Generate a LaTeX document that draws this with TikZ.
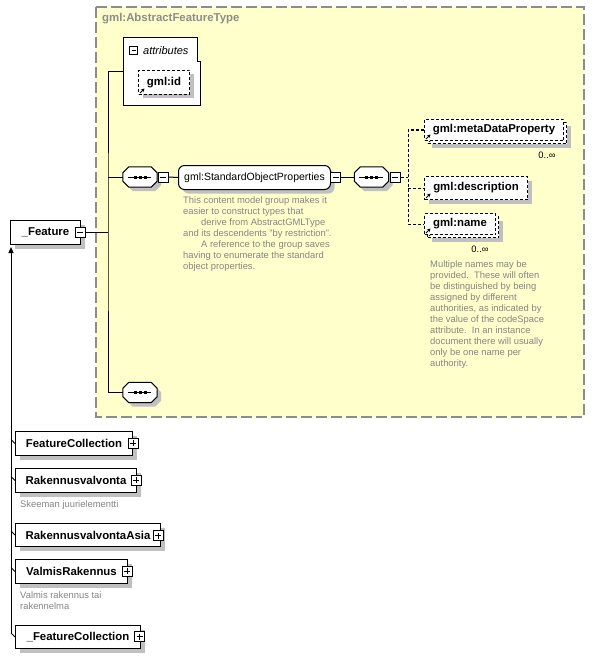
\documentclass[tikz,border=0pt]{standalone}
\usepackage{fontspec}
\setmainfont{Liberation Sans}
\usepackage{tikz}
\usetikzlibrary{shadows}
\usetikzlibrary{arrows.meta}

\definecolor{typeyellow}{HTML}{FFFFCC}
\definecolor{typeborder}{HTML}{8C8C8C}
\definecolor{docgray}{HTML}{858585}
\definecolor{shadowgray}{HTML}{C0C0C0}

\newcommand{\elemfont}{\fontsize{11.4}{13}\selectfont\bfseries}
\newcommand{\groupfont}{\fontsize{10.5}{12}\selectfont}
\newcommand{\docfont}{\fontsize{9.4}{11}\selectfont}

\tikzset{
  boxshadow/.style={drop shadow={shadow xshift=4pt, shadow yshift=-4pt, fill=shadowgray, opacity=1}},
  element/.style={draw, fill=white, line width=1pt, font=\elemfont, inner sep=0pt, anchor=north west, boxshadow},
  refmark/.style={path picture={\draw[solid, line width=1pt, -{Stealth[length=3.5pt,width=3.5pt]}] ([xshift=1.5pt,yshift=1.5pt]path picture bounding box.south west) -- ++(4.5pt,4.5pt);}},
  refelement/.style={draw, fill=white, line width=1pt, dash pattern=on 3pt off 2pt, font=\elemfont, inner sep=0pt, anchor=north west, refmark},
  pmbox/.style={draw, fill=white, line width=1pt, minimum size=10pt, inner sep=0pt},
  minus/.style={pmbox, path picture={\draw[line width=1pt] ([xshift=2pt]path picture bounding box.west) -- ([xshift=-2pt]path picture bounding box.east);}},
  plus/.style={pmbox, path picture={\draw[line width=1pt] ([xshift=2pt]path picture bounding box.west) -- ([xshift=-2pt]path picture bounding box.east) ([yshift=-2pt]path picture bounding box.north) -- ([yshift=2pt]path picture bounding box.south);}},
  sequence/.style={minimum width=34pt, minimum height=20pt, inner sep=0pt},
  group/.style={draw, fill=white, line width=1pt, rounded corners=6pt, font=\groupfont, inner sep=0pt, anchor=north west, boxshadow},
  doctext/.style={font=\docfont, text=docgray, inner sep=0pt, align=left},
  connector/.style={line width=1pt},
  optconnector/.style={line width=1pt, dash pattern=on 3pt off 2pt}
}

\newcommand{\seqoutline}[1]{%
  \draw[line width=1pt, fill=white, boxshadow] ([yshift=-6pt]#1.north west) -- ([xshift=6pt]#1.north west) -- ([xshift=-6pt]#1.north east) -- ([yshift=-6pt]#1.north east) -- ([yshift=6pt]#1.south east) -- ([xshift=-6pt]#1.south east) -- ([xshift=6pt]#1.south west) -- ([yshift=6pt]#1.south west) -- cycle;
  \draw[line width=1pt] ([xshift=5pt]#1.west) -- ([xshift=-6pt]#1.east);
  \foreach \d in {-5,0,5}
    \fill ([xshift=\d pt]#1.center) +(-1.5pt,-1.5pt) rectangle +(1.5pt,1.5pt);}

\begin{document}
\begin{tikzpicture}[x=1pt, y=-1pt]
\useasboundingbox (0,0) rectangle (594,658);

\draw[draw=typeborder, fill=typeyellow, line width=1.5pt, dash pattern=on 11pt off 4pt] (96,7) rectangle (584,417);
\node[anchor=west, font=\elemfont, text=typeborder, inner sep=0pt] (typename) at (102,19) {gml:AbstractFeatureType};

\node[minimum width=77pt, minimum height=67pt, anchor=north west, inner sep=0pt] (attrs) at (123,38) {};
\draw[fill=white, line width=1pt] (attrs.north west) -- ([xshift=-3pt]attrs.north east) |- ([yshift=-24pt]attrs.north east) -- (attrs.south east) -- (attrs.south west) -- cycle;
\node[minus, minimum size=8pt] (attrspm) at (133.5,51) {};
\node[anchor=west, font=\fontsize{11}{13}\selectfont\itshape, inner sep=0pt] (attrslabel) at (143,51) {attributes};
\node[refelement, boxshadow, minimum width=51pt, minimum height=24pt] (gmlid) at (138,70) {gml:id};

\node[element, minimum width=70pt, minimum height=24pt] (feature) at (10,220) {\_Feature};
\node[minus] (featurepm) at (80,232) {};

\node[sequence] (seq1) at (140,177) {};
\seqoutline{seq1}
\node[minus] (seq1pm) at (163,177) {};
\node[group, minimum width=152pt, minimum height=24pt] (sop) at (178,165) {gml:StandardObjectProperties};
\node[minus] (soppm) at (335.5,177) {};
\node[sequence] (seq2) at (371.5,177) {};
\seqoutline{seq2}
\node[minus] (seq2pm) at (395,177) {};
\node[sequence] (seq3) at (140,392.5) {};
\seqoutline{seq3}

\node[refelement, boxshadow, minimum width=139pt, minimum height=21pt] (metaback) at (427,122) {};
\node[refelement, minimum width=139pt, minimum height=21pt] (meta) at (424,119) {gml:metaDataProperty};
\node[font=\docfont, inner sep=0pt] (metaocc) at (547,155) {0..∞};
\node[refelement, boxshadow, minimum width=103pt, minimum height=23pt] (desc) at (424,176) {gml:description};
\node[refelement, boxshadow, minimum width=71pt, minimum height=21pt] (nameback) at (427,216) {};
\node[refelement, minimum width=71pt, minimum height=21pt] (name) at (424,213) {gml:name};
\node[font=\docfont, inner sep=0pt] (nameocc) at (480,249) {0..∞};

\node[doctext, anchor=north west] (sopdoc) at (183,196) {This content model group makes it\\easier to construct types that\\\hspace*{18pt}derive from AbstractGMLType\\and its descendents "by restriction".\\\hspace*{18pt}A reference to the group saves\\having to enumerate the standard\\object properties.};
\node[doctext, anchor=north west] (namedoc) at (430,260) {Multiple names may be\\provided.\ \ These will often\\be distinguished by being\\assigned by different\\authorities, as indicated by\\the value of the codeSpace\\attribute.\ \ In an instance\\document there will usually\\only be one name per\\authority.};

\coordinate (trunk) at (108,232);
\draw[connector] (featurepm.east) -- (trunk);
\draw[connector] (attrs.west) -| (trunk) |- (seq3.west);
\draw[connector] (trunk |- seq1.west) -- (seq1.west);
\draw[connector] (seq1pm.east) -- (sop.west);
\draw[connector] (soppm.east) -- (seq2.west);

\coordinate (fork) at (408,177);
\draw[optconnector] (seq2pm.east) -- (fork);
\draw[optconnector] (meta.west) -| (fork) |- (name.west);
\draw[optconnector] (fork |- desc.west) -- (desc.west);

\node[element, minimum width=117pt, minimum height=24pt] (fc) at (15,431) {FeatureCollection};
\node[plus] (fcpm) at (133,443) {};
\node[element, minimum width=121pt, minimum height=24pt] (rv) at (15,468) {Rakennusvalvonta};
\node[plus] (rvpm) at (136,480) {};
\node[doctext, anchor=west] (rvdoc) at (20,505) {Skeeman juurielementti};
\node[element, minimum width=145pt, minimum height=23pt] (rva) at (15,523) {RakennusvalvontaAsia};
\node[plus] (rvapm) at (158,535.5) {};
\node[element, minimum width=112pt, minimum height=24pt] (vr) at (15,559) {ValmisRakennus};
\node[plus] (vrpm) at (127,571) {};
\node[doctext, anchor=north west] (vrdoc) at (20,591) {Valmis rakennus tai\\rakennelma};
\node[element, minimum width=125pt, minimum height=23pt] (fcol) at (15,625) {\_FeatureCollection};
\node[plus] (fcolpm) at (139.5,636.5) {};

\draw[connector, -{Triangle[length=6pt,width=5pt]}] ([xshift=-4pt,yshift=4pt]fcol.west) -- ([xshift=1pt,yshift=-2pt]feature.south west);
\foreach \n in {fc,rv,rva,vr,fcol}
  \draw[line width=0.8pt] ([xshift=-4pt,yshift=4pt]\n.west) -- (\n.west);
\end{tikzpicture}
\end{document}
